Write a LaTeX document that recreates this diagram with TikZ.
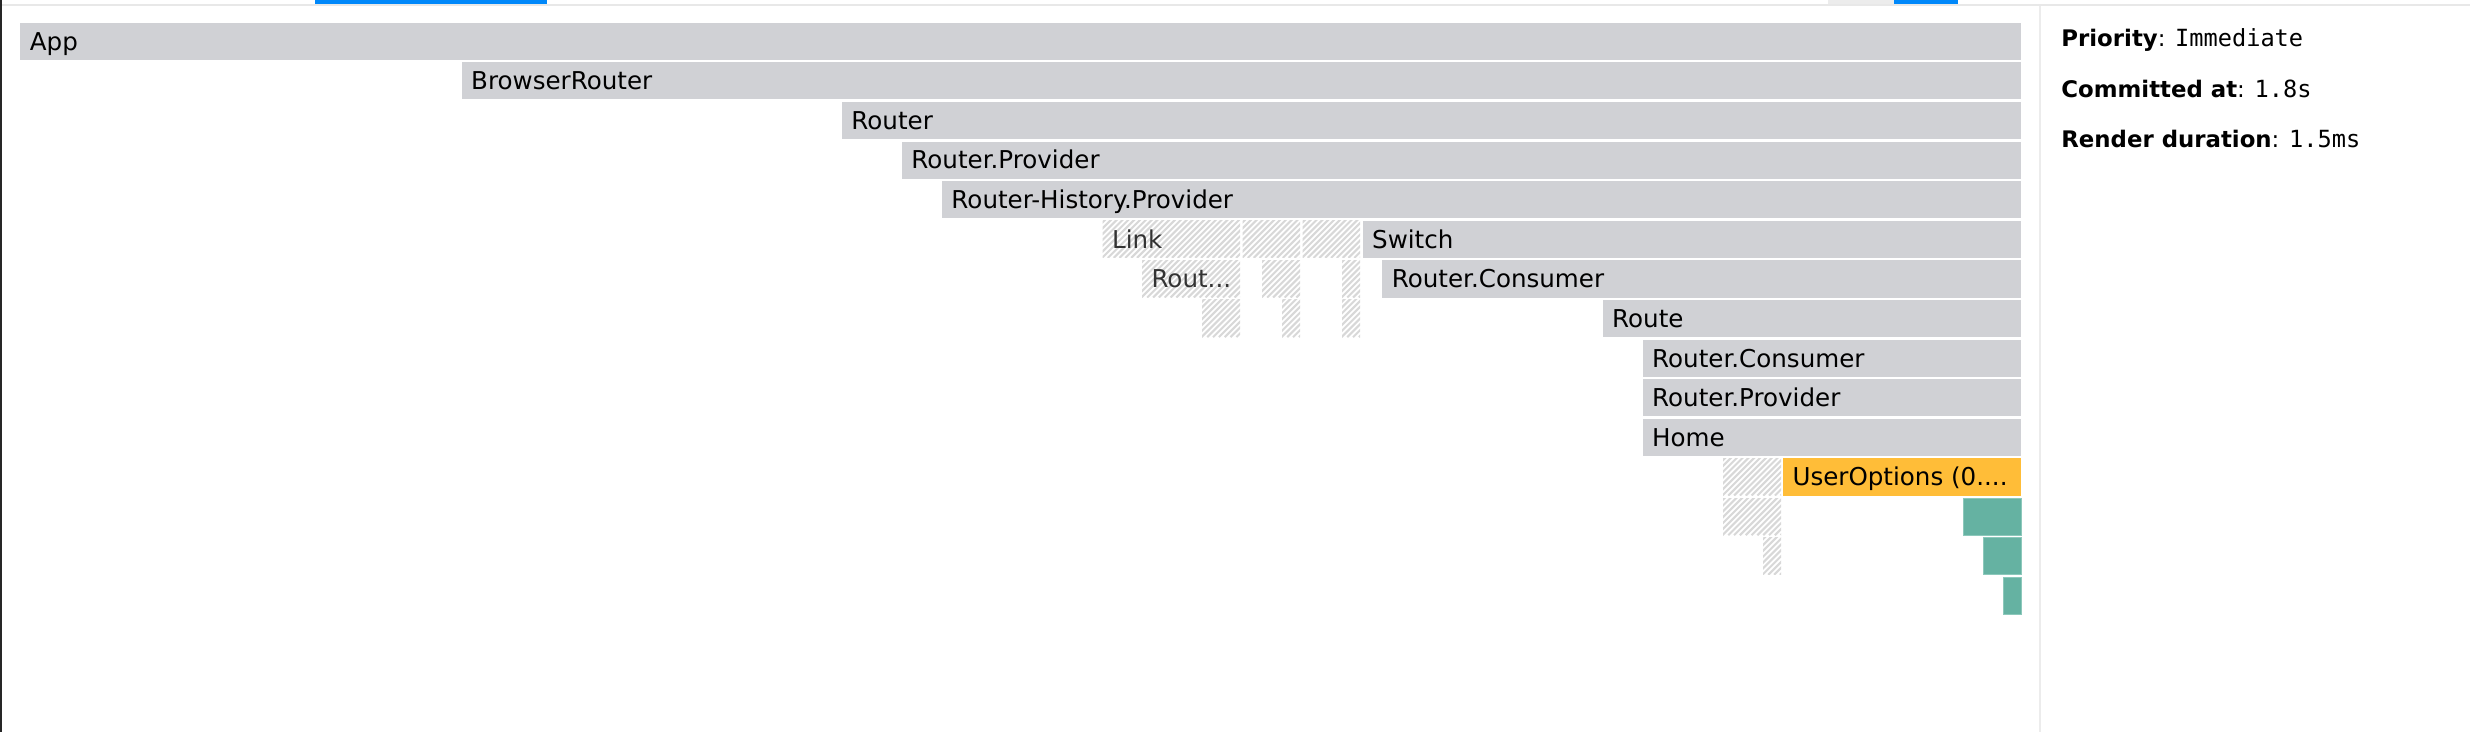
\documentclass[tikz,border=0pt]{standalone}
\usepackage{fontspec}
\setmainfont{DejaVu Sans}
\newfontfamily\monof{DejaVu Sans Mono}
\definecolor{bargray}{RGB}{208,209,213}
\definecolor{barorange}{RGB}{255,189,56}
\definecolor{barteal}{RGB}{101,178,162}
\definecolor{tealedge}{RGB}{140,200,187}
\definecolor{hatchgray}{RGB}{216,216,216}
\definecolor{uiblue}{RGB}{0,136,250}
\definecolor{linegray}{RGB}{232,232,232}
\definecolor{seggray}{RGB}{236,236,236}
\newcommand\fgbar[6]{%
  \pgfmathsetmacro\fgy{14.4+25.15*#3}%
  \pgfmathsetmacro\fgt{#5-#4-12}%
  \node[#2] (#1) at (#4pt,-\fgy pt) {\makebox[\fgt pt][l]{#6}};%
}
\newcommand\fgbox[5]{%
  \pgfmathsetmacro\fgy{14.4+25.15*#3}%
  \pgfmathsetmacro\fgw{#5-#4}%
  \node[#2, inner xsep=0pt, minimum width=\fgw pt] (#1) at (#4pt,-\fgy pt) {};%
}
\begin{document}
\begin{tikzpicture}[
  fg/.style={inner xsep=6pt, inner ysep=0pt, minimum height=23.6pt, anchor=north west,
    font=\fontsize{15.6}{18}\selectfont, text height=11.3pt, text depth=0pt, outer sep=0pt},
  gbar/.style={fg, fill=bargray, text=black},
  hatch/.style={path picture={
    \foreach \k in {-30,-26.3,...,100}{
      \draw[line width=1.3pt, hatchgray] ([xshift=\k pt]path picture bounding box.south west) -- ++(30pt,30pt);}}},
  hbar/.style={fg, fill=white, text=black!80, hatch},
  obar/.style={fg, fill=barorange, text=black},
  tbar/.style={fg, fill=barteal, draw=tealedge, line width=0.5pt},
  panel/.style={anchor=base west, inner sep=0pt, font=\fontsize{14.5}{17}\selectfont, text=black}
]
\useasboundingbox[fill=white] (0pt,0pt) rectangle (1568.25pt,-464.76pt);

% window chrome
\fill[linegray] (0pt,-2.4pt) rectangle (1568.25pt,-3.6pt);
\fill[uiblue] (200pt,0pt) rectangle (347.6pt,-2.5pt);
\fill[seggray] (1160.6pt,0pt) rectangle (1202.5pt,-2.5pt);
\fill[uiblue] (1202.5pt,0pt) rectangle (1243.2pt,-2.5pt);
\fill[seggray] (1294.6pt,-3.6pt) rectangle (1295.9pt,-464.76pt);
\fill[black!85] (0pt,0pt) rectangle (1.2pt,-464.76pt);

% flame graph bars
\fgbar{app}{gbar}{0}{13.0}{1283.2}{App}
\fgbar{browserrouter}{gbar}{1}{293.2}{1283.2}{BrowserRouter}
\fgbar{router}{gbar}{2}{534.6}{1283.2}{Router}
\fgbar{routerprovider}{gbar}{3}{572.7}{1283.2}{Router.Provider}
\fgbar{historyprovider}{gbar}{4}{598.1}{1283.2}{Router-History.Provider}

\fgbar{link}{hbar}{5}{700.1}{787.3}{Link}
\fgbox{hatchFiveB}{hbar}{5}{789.0}{825.4}
\fgbox{hatchFiveC}{hbar}{5}{827.0}{863.5}
\fgbar{switch}{gbar}{5}{865.2}{1283.2}{Switch}

\fgbar{rout}{hbar}{6}{725.1}{787.3}{Rout...}
\fgbox{hatchSixB}{hbar}{6}{801.3}{825.4}
\fgbox{hatchSixC}{hbar}{6}{852.1}{863.5}
\fgbar{consumer}{gbar}{6}{877.7}{1283.2}{Router.Consumer}

\fgbox{hatchSevenA}{hbar}{7}{763.2}{787.3}
\fgbox{hatchSevenB}{hbar}{7}{814.0}{825.4}
\fgbox{hatchSevenC}{hbar}{7}{852.1}{863.5}
\fgbar{route}{gbar}{7}{1017.6}{1283.2}{Route}

\fgbar{consumertwo}{gbar}{8}{1043.0}{1283.2}{Router.Consumer}
\fgbar{providertwo}{gbar}{9}{1043.0}{1283.2}{Router.Provider}
\fgbar{home}{gbar}{10}{1043.0}{1283.2}{Home}

\fgbox{hatchEleven}{hbar}{11}{1094.0}{1130.8}
\fgbar{useroptions}{obar}{11}{1132.1}{1283.2}{UserOptions (0....}

\fgbox{hatchTwelve}{hbar}{12}{1094.0}{1130.8}
\fgbox{tealTwelve}{tbar}{12}{1246.3}{1283.2}
\fgbox{hatchThirteen}{hbar}{13}{1119.4}{1130.8}
\fgbox{tealThirteen}{tbar}{13}{1259.0}{1283.2}
\fgbox{tealFourteen}{tbar}{14}{1271.7}{1283.2}

% side panel
\node[panel] (priority) at (1308.6pt,-29.6pt) {\textbf{Priority}: {\fontsize{15}{17}\monof Immediate}};
\node[panel] (committed) at (1308.6pt,-61.8pt) {\textbf{Committed at}: {\fontsize{15}{17}\monof 1.8s}};
\node[panel] (duration) at (1308.6pt,-93.8pt) {\textbf{Render duration}: {\fontsize{15}{17}\monof 1.5ms}};
\end{tikzpicture}
\end{document}
